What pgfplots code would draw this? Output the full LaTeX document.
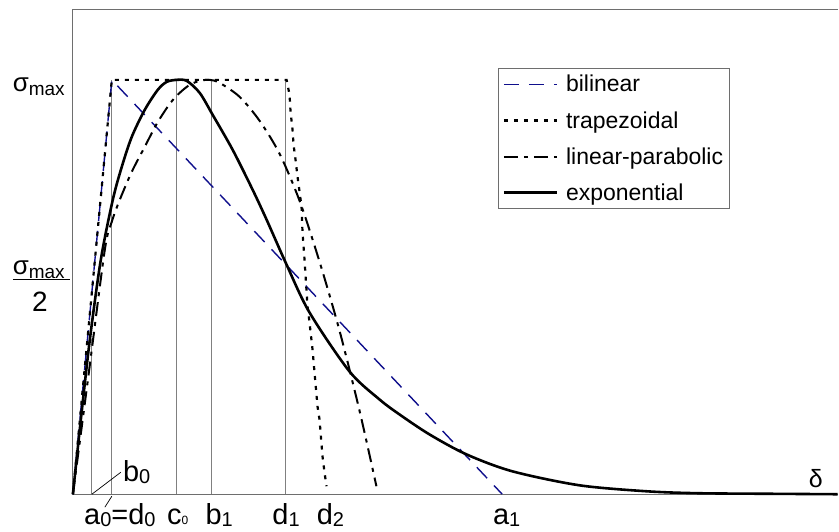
\documentclass[border=0pt]{standalone}
\usepackage{pgfplots}
\pgfplotsset{compat=1.18}
\usepackage{fontspec}
\setmainfont{Liberation Sans}
\definecolor{bilin}{RGB}{15,15,140}
\definecolor{frame}{RGB}{110,110,110}
\newcommand\lab[1]{\fontsize{#1}{#1}\selectfont}
\newcommand\sub[1]{\raisebox{-2bp}{\fontsize{20bp}{20bp}\selectfont #1}}
\begin{document}
\begin{tikzpicture}
\begin{axis}[
  scale only axis, width=766bp, height=485bp,
  xmin=0, xmax=766, ymin=0, ymax=485,
  hide axis, clip=false,
  legend style={at={(0.5561,0.8804)}, anchor=north west, draw=frame, line width=0.8bp,
    font=\fontsize{23bp}{27bp}\selectfont, inner xsep=4bp, inner ysep=5bp,
    row sep=14bp, cells={anchor=west},
    /tikz/every odd column/.append style={column sep=6bp}},
  legend image code/.code={\draw[#1] (0bp,0bp) -- (53bp,0bp);},
]
% frame and guide lines
\draw[frame, line width=1bp] (rel axis cs:1,1) -- (rel axis cs:0,1) -- (rel axis cs:0,0) -- (rel axis cs:1,0);
\addplot[gray, line width=1bp, forget plot] coordinates {(19,0) (19,155)};
\addplot[gray, line width=1bp, forget plot] coordinates {(39,0) (39,415)};
\addplot[gray, line width=1bp, forget plot] coordinates {(104,0) (104,415)};
\addplot[gray, line width=1bp, forget plot] coordinates {(139,0) (139,415)};
\addplot[gray, line width=1bp, forget plot] coordinates {(213,0) (213,415)};

% bilinear
\addplot[bilin, line width=1.4bp, dash pattern=on 15bp off 10bp] coordinates {(0,0) (39,415) (430,0)};
\addlegendentry{bilinear}
% trapezoidal
\addplot[black, line width=2.2bp, dash pattern=on 4bp off 6bp] coordinates {
(0,0) (39,415) (214,415) (217,400) (218,383) (220,365) (221,350) (223,335) (225,318)
(229,288) (230,262) (232,235) (235,188) (237,172) (240,145) (242,122) (245,88)
(247,75) (250,38) (252,22) (254,8)};
\addlegendentry{trapezoidal}
% linear-parabolic
\addplot[black, line width=2bp, smooth, tension=0.5, dash pattern=on 14bp off 6bp on 4bp off 6bp] coordinates {
(0,0) (16,122) (32,245) (39,273) (47,295) (59,323) (72,348) (84,371) (97,391)
(107,402) (117,410) (127,414) (137,415) (147,412) (167,398) (187,374) (207,341)
(227,294) (247,233) (267,164) (287,84) (304,8)};
\addlegendentry{linear-parabolic}
% exponential
\addplot[black, line width=2.6bp, smooth, tension=0.5] coordinates {
(0,0) (8,75) (17,155) (28,235) (40,295) (49,328) (59,358) (72,385) (85,405)
(94,413) (104,415) (114,414) (127,402) (140,380) (160,345) (180,305) (194,275)
(214,230) (237,182) (277,123) (307,95) (327,80) (357,60) (394,40) (440,23)
(507,9) (574,3) (627,1) (707,0.4) (766,0)};
\addlegendentry{exponential}

% leader lines
\draw[black, line width=0.7bp] (axis cs:19,0) -- (axis cs:48,22);
\draw[black, line width=0.7bp] (axis cs:39,-2) -- (axis cs:32,-13);

% labels
\node[anchor=base, font=\lab{29bp}, inner sep=0pt] at (axis cs:47,-30) {a\sub{0}=d\sub{0}};
\node[anchor=base, font=\lab{29bp}, inner sep=0pt] at (axis cs:105,-30) {c\raisebox{0bp}{\lab{12bp}0}};
\node[anchor=base, font=\lab{29bp}, inner sep=0pt] at (axis cs:146.5,-30) {b\sub{1}};
\node[anchor=base, font=\lab{29bp}, inner sep=0pt] at (axis cs:213.5,-30) {d\sub{1}};
\node[anchor=base, font=\lab{29bp}, inner sep=0pt] at (axis cs:258,-30) {d\sub{2}};
\node[anchor=base, font=\lab{29bp}, inner sep=0pt] at (axis cs:434.5,-30) {a\sub{1}};
\node[anchor=base west, font=\lab{29bp}, inner sep=0pt] at (axis cs:50,13) {b\sub{0}};
\node[anchor=base west, font=\lab{25bp}, inner sep=0pt] at (axis cs:737,7) {δ};

\node[anchor=base east, inner sep=0pt] at (axis cs:-8,403) {\lab{26bp}σ\raisebox{-4bp}{\lab{19bp}max}};
\node[anchor=base east, inner sep=0pt] at (axis cs:-8,220) {\lab{26bp}σ\raisebox{-4bp}{\lab{19bp}max}};
\draw[black, line width=1.2bp] (axis cs:-60,215) -- (axis cs:-3,215);
\node[anchor=base, inner sep=0pt] at (axis cs:-33,183) {\lab{28bp}2};

% page size
\path ([shift={(-73bp,-37bp)}]rel axis cs:0,0) rectangle ([shift={(0bp,10bp)}]rel axis cs:1,1);
\end{axis}
\end{tikzpicture}
\end{document}
